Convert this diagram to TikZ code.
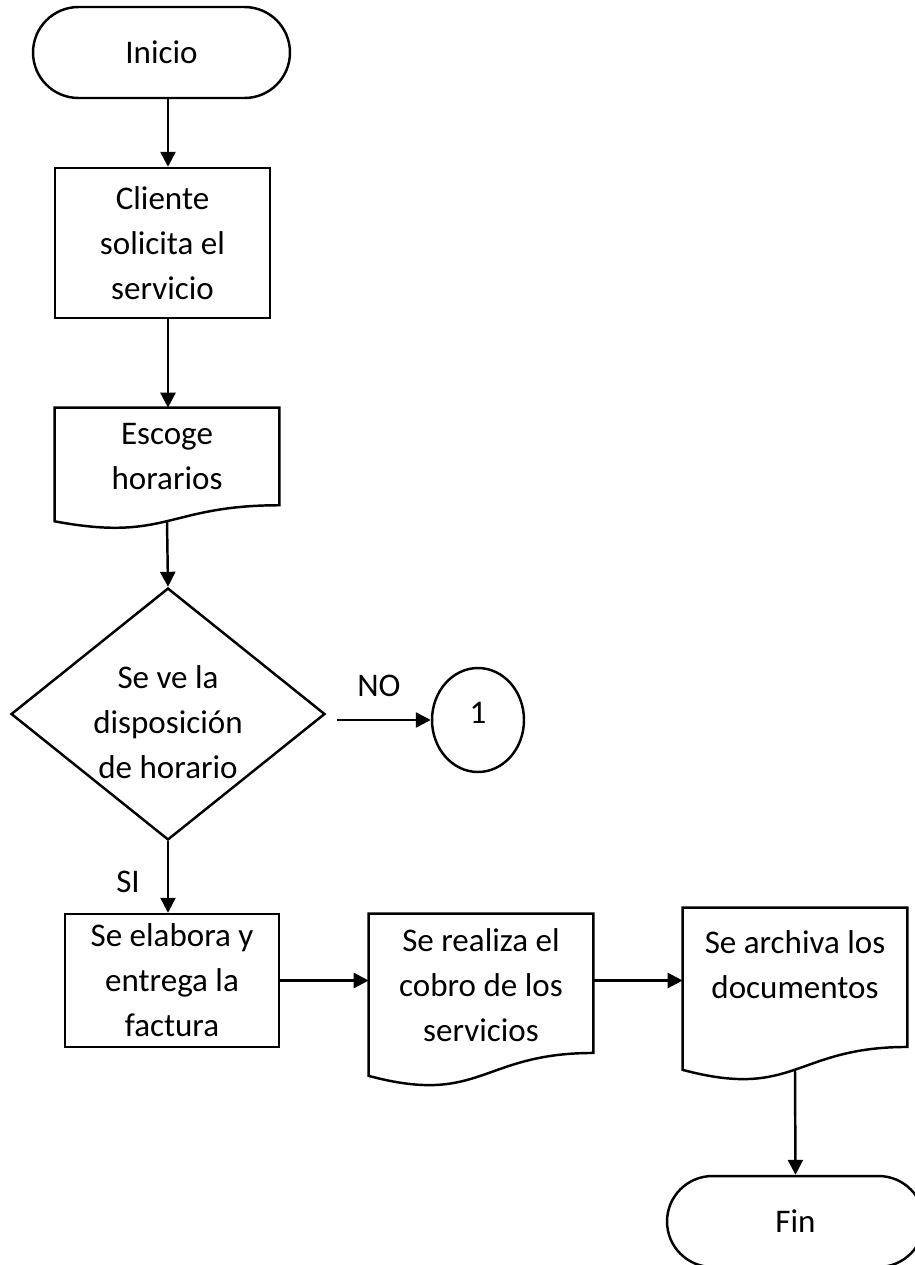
\documentclass[tikz,border=0pt]{standalone}
\usepackage{fontspec}
\setmainfont{Carlito}
\usetikzlibrary{shapes.geometric,shapes.misc,arrows.meta,calc}
\newcommand\docoutline[1]{\draw[stroke] (#1.north west) -- (#1.north east) -- ($(#1.north east)!0.802!(#1.south east)$) .. controls ($(#1.north)!0.802!(#1.south)$) and ($(#1.north)!1.107!(#1.south)$) .. ($(#1.north west)!0.934!(#1.south west)$) -- cycle;}
\begin{document}
\begin{tikzpicture}[x=0.02cm,y=-0.02cm,
  every node/.style={font=\fontsize{18.8}{25.6}\selectfont, align=center, inner sep=0pt},
  stroke/.style={line width=1.4pt},
  term/.style={rounded rectangle, draw, stroke, minimum width=5.14cm, minimum height=1.82cm},
  proc/.style={rectangle, draw, stroke},
  docbox/.style={rectangle, minimum width=4.48cm, minimum height=3.46cm},
  arr/.style={stroke, -{Triangle[length=0.3cm,width=0.3cm]}}
]
\useasboundingbox (0,0) rectangle (915,1265);

\node[term] (ini) at (161.5,52.5) {Inicio};
\node[proc, minimum width=4.3cm, minimum height=3cm] (cli) at (162.5,243) {Cliente\\solicita el\\servicio};
\node[docbox, minimum height=2.42cm] (esc) at (167,468.5) {};
\docoutline{esc}
\node (esct) at (167,456.5) {Escoge\\horarios};
\node[diamond, draw, stroke, minimum width=6.28cm, minimum height=5.04cm] (dia) at (168,714) {};
\node (diat) at (168,722) {Se ve la\\disposición\\de horario};
\node[ellipse, draw, stroke, minimum width=1.84cm, minimum height=2.08cm] (con) at (478,720) {};
\node (cont) at (478,713) {1};
\node[proc, minimum width=4.28cm, minimum height=2.66cm] (ela) at (172,980.5) {Se elabora y\\entrega la\\factura};
\node[docbox] (rea) at (481,1000.5) {};
\docoutline{rea}
\node (reat) at (481,985) {Se realiza el\\cobro de los\\servicios};
\node[docbox] (arc) at (795,994.5) {};
\docoutline{arc}
\node (arct) at (795,965) {Se archiva los\\documentos};
\node[term] (fin) at (795.5,1221.5) {Fin};

\node (no) at (379,686) {NO};
\node (si) at (128,882) {SI};

\draw[arr] (ini.south -| dia.north) -- (cli.north -| dia.north);
\draw[arr] (cli.south -| dia.north) -- (esc.north -| dia.north);
\draw[arr] ($(esc.north)!0.933!(esc.south)$) -- (dia.north);
\coordinate (nos) at ($(dia.east)+(11,6)$);
\draw[arr] (nos) -- (con.west);
\draw[arr] (dia.south) -- (ela.north -| dia.south);
\draw[arr] (ela.east) -- (rea.west |- ela.east);
\draw[arr] (rea.east |- ela.east) -- (arc.west |- ela.east);
\draw[arr] ($(arc.north)!0.933!(arc.south)$) -- (fin.north);
\end{tikzpicture}
\end{document}
